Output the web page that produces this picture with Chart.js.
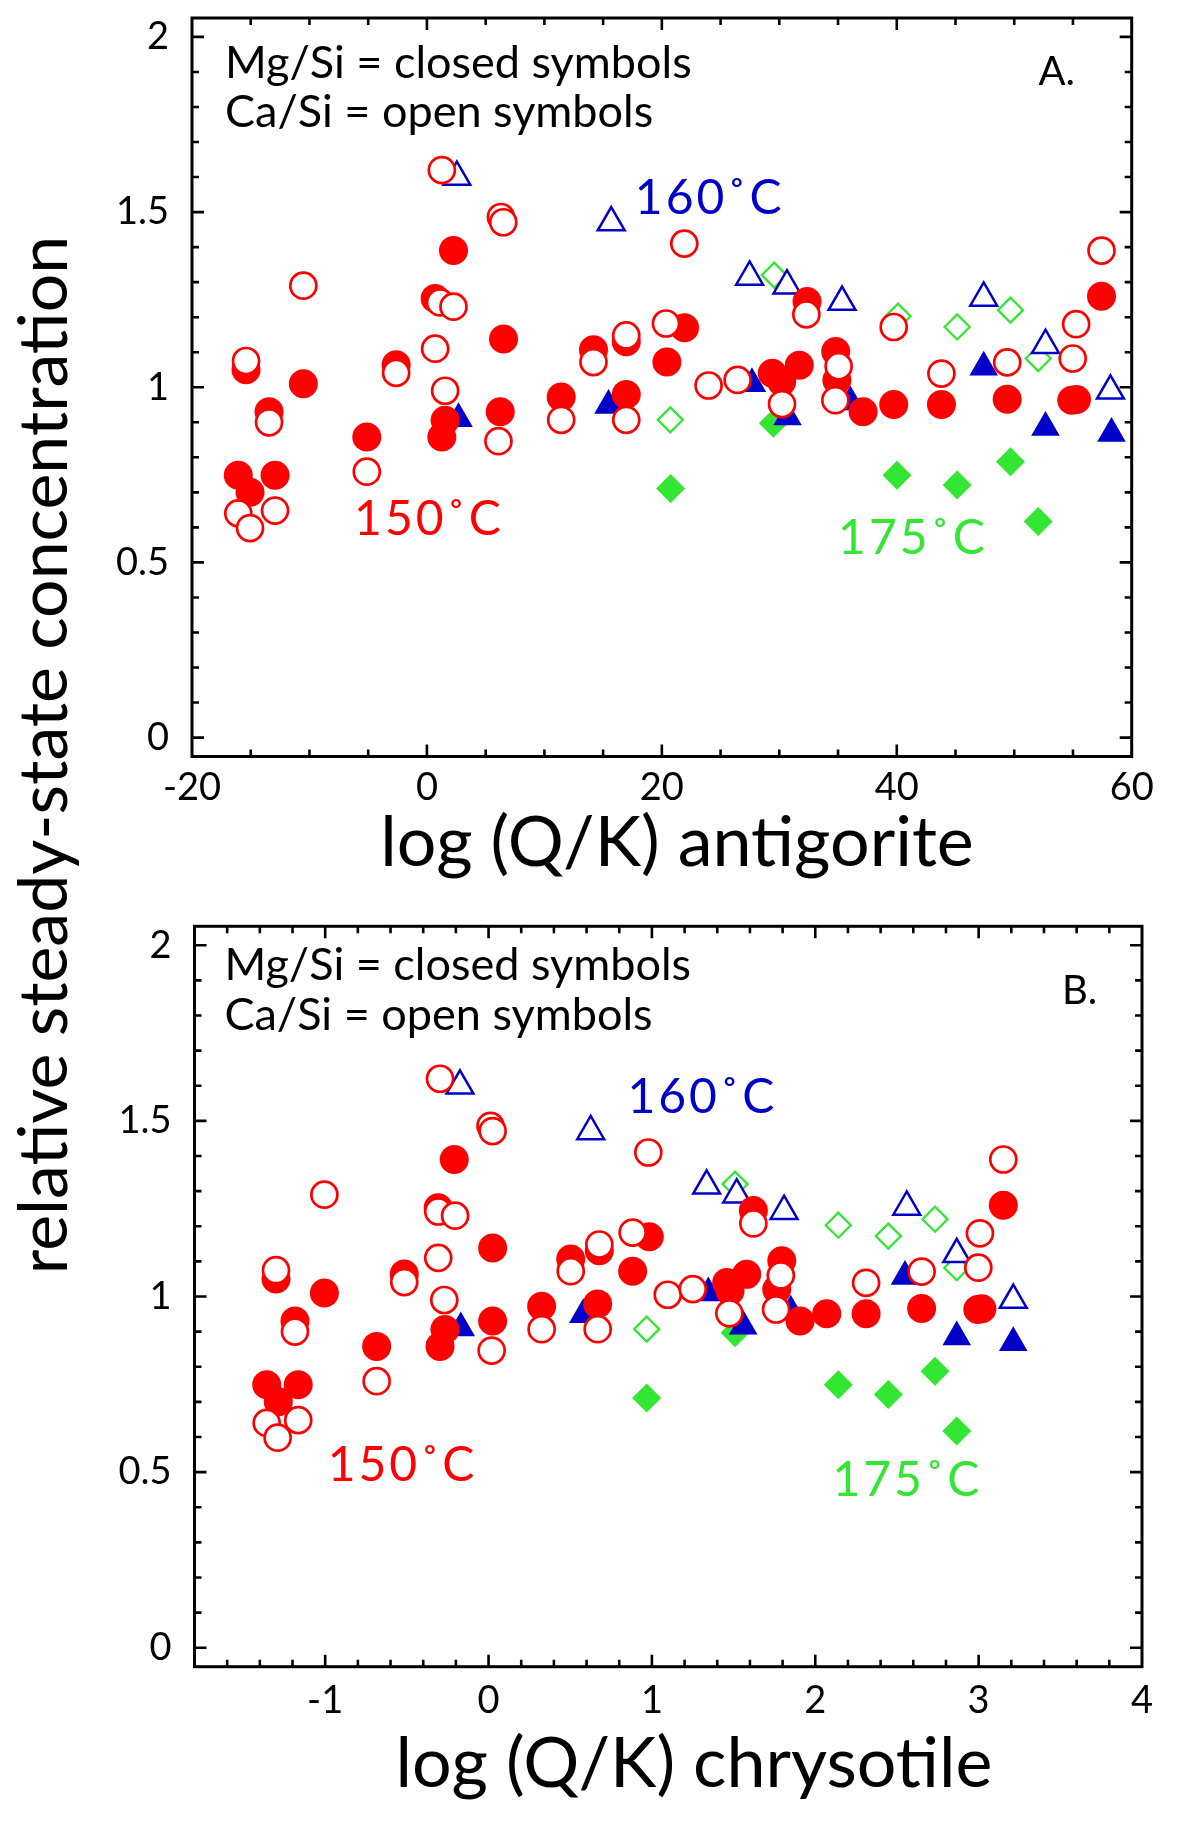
<!DOCTYPE html>
<html>
<head>
<meta charset="utf-8">
<title>relative steady-state concentration vs log (Q/K)</title>
<script src="https://cdn.jsdelivr.net/npm/chart.js@4"></script>
<style>
  body { margin: 0; background: #fff; }
  #page { position: relative; width: 1200px; height: 1824px; background: #fff; overflow: hidden; }
  canvas { position: absolute; left: 0; }
  .title { position: absolute; font-family: Lato, sans-serif; font-size: 70px; line-height: 70px; color: #000; white-space: nowrap; text-align: center; }
  #yTitle { width: 1200px; left: -559px; top: 721px; font-size: 68px; line-height: 68px; transform: rotate(-90deg); }
</style>
</head>
<body>
<div id="page">
  <canvas id="chartA" width="1200" height="900" style="top:0"></canvas>
  <canvas id="chartB" width="1200" height="924" style="top:900px"></canvas>
  <div class="title" id="yTitle">relative steady-state concentration</div>
  <div class="title" style="left:227px; width:900px; top:804px">log (Q/K) antigorite</div>
  <div class="title" style="left:244px; width:900px; top:1725px">log (Q/K) chrysotile</div>
</div>
<script>
// y values are shared by both panels; x differs (antigorite vs chrysotile)
// Mg/Si 150 C (closed circles)
const redFilledY = [0.749, 0.70, 0.749, 1.05, 0.93, 1.01, 0.858, 1.064, 1.253, 1.39, 0.858, 0.906, 1.138, 0.93, 0.972, 1.107, 1.13, 0.979, 1.072, 1.17, 1.04, 1.016, 1.063, 1.245, 1.102, 1.02, 0.93, 0.951, 0.951, 0.966, 0.963, 0.965, 1.26];
const redFilledAnt = [-16.06, -15.06, -12.93, -15.4, -13.44, -10.52, -5.12, -2.62, 0.7, 2.26, 1.27, 1.55, 6.52, 6.24, 11.43, 14.18, 16.97, 16.97, 20.43, 21.93, 29.4, 30.2, 31.7, 32.36, 34.8, 34.9, 37.13, 39.74, 43.8, 49.4, 54.9, 55.3, 57.43];
const redFilledChr = [-1.358, -1.287, -1.165, -1.301, -1.185, -1.005, -0.685, -0.516, -0.308, -0.21, -0.297, -0.267, 0.025, 0.025, 0.325, 0.503, 0.678, 0.668, 0.882, 0.984, 1.458, 1.478, 1.58, 1.621, 1.795, 1.764, 1.907, 2.07, 2.311, 2.651, 2.995, 3.02, 3.151];

// Ca/Si 150 C (open circles)
const redOpenY = [0.64, 0.598, 0.648, 1.075, 0.90, 1.29, 0.759, 1.041, 1.62, 1.242, 1.23, 1.11, 0.99, 1.486, 1.471, 0.846, 0.907, 1.072, 1.148, 0.907, 1.182, 1.41, 1.005, 1.021, 0.952, 1.208, 1.06, 0.963, 1.172, 1.039, 1.071, 1.18, 1.082, 1.39];
const redOpenAnt = [-16.06, -15.06, -12.93, -15.4, -13.44, -10.52, -5.12, -2.62, 1.27, 1.12, 2.26, 0.7, 1.55, 6.3, 6.5, 6.09, 11.43, 14.18, 16.97, 16.97, 20.35, 21.91, 23.98, 26.45, 30.23, 32.3, 35.05, 34.77, 39.74, 43.8, 49.4, 55.27, 54.98, 57.43];
const redOpenChr = [-1.358, -1.291, -1.165, -1.301, -1.185, -1.005, -0.685, -0.516, -0.297, -0.308, -0.205, -0.308, -0.271, 0.012, 0.025, 0.019, 0.325, 0.503, 0.678, 0.668, 0.882, 0.978, 1.097, 1.25, 1.474, 1.621, 1.789, 1.76, null, 2.311, 2.651, 3.008, 2.998, 3.151];

// 160 C (triangles)
const blueFilledY = [0.91, 0.948, 1.01, 0.915, 0.958, 1.057, 0.885, 0.868];
const blueFilledAnt = [2.69, 15.46, 27.67, 30.7, 36.05, 47.4, 52.66, 58.28];
const blueFilledChr = [-0.17, 0.58, 1.345, 1.559, 1.85, 2.549, 2.866, 3.212];
const blueOpenY = [1.60, 1.47, 1.315, 1.29, 1.243, 1.255, 1.12, 0.99];
const blueOpenAnt = [2.55, 15.69, 27.47, 30.65, 35.34, 47.4, 52.66, 58.19];
const blueOpenChr = [-0.175, 0.625, 1.335, 1.519, 1.809, 2.56, 2.866, 3.212];

// 175 C (diamonds)
const greenFilledY = [0.711, 0.897, 0.749, 0.721, 0.787, 0.617];
const greenFilledAnt = [20.75, 29.5, 40.02, 45.14, 49.68, 52.04];
const greenFilledChr = [0.968, 1.509, 2.141, 2.447, 2.733, 2.866];
const greenOpenY = [0.907, 1.32, 1.203, 1.172, 1.22, 1.082];
const greenOpenAnt = [20.72, 29.57, 40.11, 45.14, 49.68, 52.04];
const greenOpenChr = [0.968, 1.509, 2.141, 2.447, 2.733, 2.866];

// axes
const yTickValues = [0, 0.5, 1, 1.5, 2];
const yTickLabels = ['0', '0.5', '1', '1.5', '2'];
const xTickValuesA = [-20, 0, 20, 40, 60];
const xTickLabelsA = ['-20', '0', '20', '40', '60'];
const xTickValuesB = [-1, 0, 1, 2, 3, 4];
const xTickLabelsB = ['-1', '0', '1', '2', '3', '4'];

const RED = '#ff0000';
const BLUE = '#0000c8';
const GREEN = '#33e633';
const FONT = 'Lato, sans-serif';

function pts(xs, ys) {
    return xs.map((x, i) => ({x: x, y: ys[i]})).filter(p => p.x !== null);
}

// frame with inward ticks on all four sides
const frameTicks = {
    id: 'frameTicks',
    afterDatasetsDraw(chart, args, opts) {
        const {ctx, chartArea: a, scales: {x, y}} = chart;
        ctx.save();
        ctx.strokeStyle = '#000';
        ctx.lineCap = 'butt';
        ctx.lineWidth = 2.6;
        ctx.beginPath();
        const isMajor = (v, m) => Math.abs(v / m - Math.round(v / m)) < 1e-6;
        const nx = Math.round((x.max - opts.xStart) / opts.xStep);
        for (let i = 0; i <= nx; i++) {
            const v = opts.xStart + i * opts.xStep;
            const px = x.getPixelForValue(v);
            if (px < a.left + 2 || px > a.right - 2) continue;
            const len = isMajor(v, opts.xMajor) ? 12 : 7;
            ctx.moveTo(px, a.bottom); ctx.lineTo(px, a.bottom - len);
            ctx.moveTo(px, a.top); ctx.lineTo(px, a.top + len);
        }
        const ny = Math.round((2 - 0) / 0.1);
        for (let i = 0; i <= ny; i++) {
            const v = i * 0.1;
            const py = y.getPixelForValue(v);
            const len = isMajor(v, 0.5) ? 12 : 7;
            ctx.moveTo(a.left, py); ctx.lineTo(a.left + len, py);
            ctx.moveTo(a.right, py); ctx.lineTo(a.right - len, py);
        }
        ctx.stroke();
        ctx.lineWidth = 3;
        ctx.strokeRect(a.left, a.top, a.right - a.left, a.bottom - a.top);
        ctx.restore();
    }
};

// text notes inside the plot, placed in data coordinates
const notes = {
    id: 'notes',
    afterDatasetsDraw(chart, args, opts) {
        const {ctx, scales: {x, y}} = chart;
        ctx.save();
        ctx.textAlign = 'left';
        ctx.textBaseline = 'alphabetic';
        opts.items.forEach(n => {
            ctx.font = n.size + 'px ' + FONT;
            ctx.fillStyle = n.color;
            if ('letterSpacing' in ctx) ctx.letterSpacing = (n.spacing || 0) + 'px';
            ctx.fillText(n.text, x.getPixelForValue(n.x), y.getPixelForValue(n.y));
        });
        ctx.restore();
    }
};

function datasets(xRedOpen, xRedFilled, xBlueOpen, xBlueFilled, xGreenOpen, xGreenFilled) {
    return [{
        label: 'Ca/Si 150',
        data: pts(xRedOpen, redOpenY),
        pointStyle: 'circle', pointRadius: 13, pointBorderWidth: 2.7,
        pointBorderColor: RED, pointBackgroundColor: '#fff'
    }, {
        label: 'Mg/Si 150',
        data: pts(xRedFilled, redFilledY),
        pointStyle: 'circle', pointRadius: 14.5, pointBorderWidth: 0,
        pointBackgroundColor: RED
    }, {
        label: 'Ca/Si 160',
        data: pts(xBlueOpen, blueOpenY),
        pointStyle: 'triangle', pointRadius: 15.5, pointBorderWidth: 2.5,
        pointBorderColor: BLUE, pointBackgroundColor: '#fff'
    }, {
        label: 'Mg/Si 160',
        data: pts(xBlueFilled, blueFilledY),
        pointStyle: 'triangle', pointRadius: 16.5, pointBorderWidth: 0,
        pointBackgroundColor: BLUE
    }, {
        label: 'Ca/Si 175',
        data: pts(xGreenOpen, greenOpenY),
        pointStyle: 'rectRot', pointRadius: 12.5, pointBorderWidth: 2.3,
        pointBorderColor: GREEN, pointBackgroundColor: '#fff'
    }, {
        label: 'Mg/Si 175',
        data: pts(xGreenFilled, greenFilledY),
        pointStyle: 'rectRot', pointRadius: 14.5, pointBorderWidth: 0,
        pointBackgroundColor: GREEN
    }];
}

function makeChart(id, c) {
    return new Chart(document.getElementById(id), {
        type: 'scatter',
        data: {datasets: c.datasets},
        options: {
            responsive: false,
            animation: false,
            devicePixelRatio: 1,
            layout: {padding: c.padding},
            plugins: {
                legend: {display: false},
                tooltip: {enabled: false},
                frameTicks: c.ticks,
                notes: {items: c.notes}
            },
            scales: {
                x: {
                    type: 'linear', position: 'bottom', min: c.xMin, max: c.xMax,
                    grid: {display: false, drawTicks: false},
                    border: {display: false},
                    ticks: {
                        font: {family: FONT, size: 38}, color: '#000', padding: c.xPad,
                        maxRotation: 0, autoSkip: false,
                        callback: (v, i) => c.xLabels[i]
                    },
                    afterBuildTicks: s => { s.ticks = c.xTicks.map(v => ({value: v})); },
                    afterFit: s => { s.height = c.xAxisHeight; s.paddingLeft = 0; s.paddingRight = 0; }
                },
                y: {
                    type: 'linear', position: 'left', min: -0.054, max: 2.054,
                    grid: {display: false, drawTicks: false},
                    border: {display: false},
                    ticks: {
                        font: {family: FONT, size: 38}, color: '#000', padding: 23,
                        autoSkip: false,
                        callback: (v, i) => yTickLabels[i]
                    },
                    afterBuildTicks: s => { s.ticks = yTickValues.map(v => ({value: v})); },
                    afterFit: s => { s.width = c.yAxisWidth; s.paddingTop = 0; s.paddingBottom = 0; }
                }
            }
        },
        plugins: [frameTicks, notes]
    });
}

makeChart('chartA', {
    datasets: datasets(redOpenAnt, redFilledAnt, blueOpenAnt, blueFilledAnt, greenOpenAnt, greenFilledAnt),
    padding: {left: 0, top: 16.5, right: 68.3, bottom: 0},
    xMin: -20, xMax: 60, xTicks: xTickValuesA, xLabels: xTickLabelsA, xPad: 8,
    xAxisHeight: 143.5, yAxisWidth: 192,
    ticks: {xStart: -20, xStep: 5, xMajor: 20},
    notes: [
        {text: 'Mg/Si = closed symbols', x: -17.19, y: 1.883, size: 45, color: '#000'},
        {text: 'Ca/Si = open symbols', x: -17.19, y: 1.742, size: 45, color: '#000'},
        {text: 'A.', x: 52.06, y: 1.862, size: 40, color: '#000'},
        {text: '160˚C', x: 17.7, y: 1.494, size: 48, color: BLUE, spacing: 3},
        {text: '150˚C', x: -6.2, y: 0.577, size: 48, color: RED, spacing: 3},
        {text: '175˚C', x: 35.0, y: 0.524, size: 48, color: GREEN, spacing: 3}
    ]
});

makeChart('chartB', {
    datasets: datasets(redOpenChr, redFilledChr, blueOpenChr, blueFilledChr, greenOpenChr, greenFilledChr),
    padding: {left: 0, top: 26.3, right: 58, bottom: 0},
    xMin: -1.8, xMax: 4, xTicks: xTickValuesB, xLabels: xTickLabelsB, xPad: 11,
    xAxisHeight: 157.3, yAxisWidth: 194.5,
    ticks: {xStart: -1.8, xStep: 0.2, xMajor: 1},
    notes: [
        {text: 'Mg/Si = closed symbols', x: -1.617, y: 1.902, size: 45, color: '#000'},
        {text: 'Ca/Si = open symbols', x: -1.617, y: 1.760, size: 45, color: '#000'},
        {text: 'B.', x: 3.51, y: 1.834, size: 40, color: '#000'},
        {text: '160˚C', x: 0.85, y: 1.523, size: 48, color: BLUE, spacing: 3},
        {text: '150˚C', x: -0.985, y: 0.476, size: 48, color: RED, spacing: 3},
        {text: '175˚C', x: 2.105, y: 0.431, size: 48, color: GREEN, spacing: 3}
    ]
});
</script>
</body>
</html>
